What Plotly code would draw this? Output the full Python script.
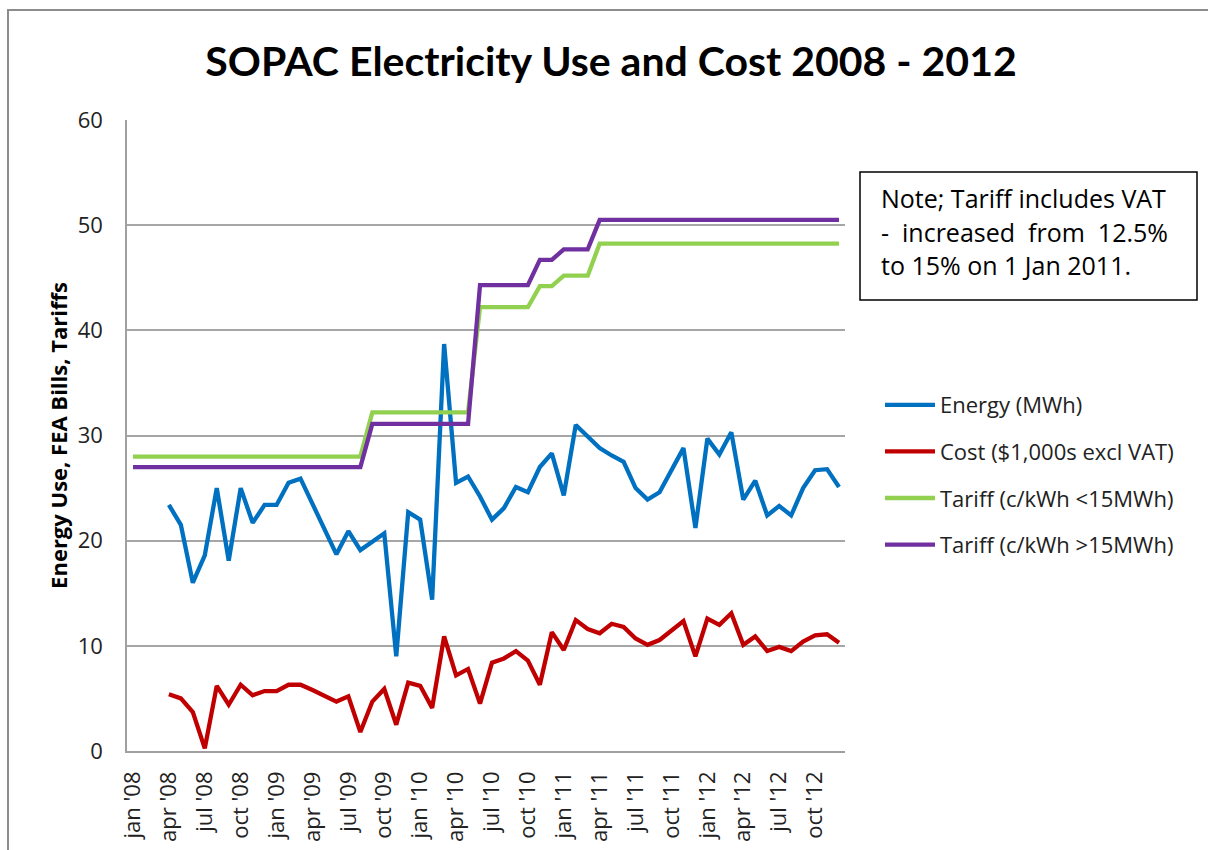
import plotly.graph_objects as go

# ---------------- data ----------------
month_names = ["jan", "feb", "mar", "apr", "may", "jun", "jul", "aug", "sep", "oct", "nov", "dec"]
years = ["08", "09", "10", "11", "12"]
months = [f"{m} '{y}" for y in years for m in month_names]

energy_mwh = [None, None, None,
              23.4, 21.5, 16.0, 18.6, 25.0, 18.1, 25.0, 21.7, 23.4,
              23.4, 25.5, 25.9, 23.5, 21.1, 18.7, 20.9, 19.1, 19.9, 20.7, 9.0, 22.7,
              22.0, 14.4, 38.7, 25.5, 26.1, 24.2, 22.0, 23.1, 25.1, 24.6, 27.0, 28.3,
              24.3, 31.0, 29.9, 28.8, 28.1, 27.5, 25.0, 23.9, 24.6, 26.8, 28.8, 21.2,
              29.7, 28.2, 30.3, 23.9, 25.7, 22.4, 23.3, 22.4, 25.0, 26.7, 26.8, 25.1]

cost_k = [None, None, None,
          5.4, 5.0, 3.7, 0.25, 6.2, 4.4, 6.3, 5.3, 5.7,
          5.7, 6.3, 6.3, 5.8, 5.2, 4.7, 5.2, 1.8, 4.7, 5.9, 2.5, 6.5,
          6.2, 4.1, 10.9, 7.2, 7.8, 4.5, 8.4, 8.8, 9.5, 8.6, 6.3, 11.3,
          9.6, 12.45, 11.6, 11.2, 12.1, 11.8, 10.7, 10.1, 10.55, 11.5, 12.35, 9.0,
          12.6, 12.0, 13.1, 10.1, 10.9, 9.5, 9.9, 9.5, 10.4, 11.0, 11.1, 10.3]

tariff_low = [28.0, 28.0, 28.0, 28.0, 28.0, 28.0, 28.0, 28.0, 28.0, 28.0, 28.0, 28.0,
              28.0, 28.0, 28.0, 28.0, 28.0, 28.0, 28.0, 28.0, 32.2, 32.2, 32.2, 32.2,
              32.2, 32.2, 32.2, 32.2, 32.2, 42.2, 42.2, 42.2, 42.2, 42.2, 44.2, 44.2,
              45.2, 45.2, 45.2, 48.25, 48.25, 48.25, 48.25, 48.25, 48.25, 48.25, 48.25, 48.25,
              48.25, 48.25, 48.25, 48.25, 48.25, 48.25, 48.25, 48.25, 48.25, 48.25, 48.25, 48.25]

tariff_high = [27.0, 27.0, 27.0, 27.0, 27.0, 27.0, 27.0, 27.0, 27.0, 27.0, 27.0, 27.0,
               27.0, 27.0, 27.0, 27.0, 27.0, 27.0, 27.0, 27.0, 31.1, 31.1, 31.1, 31.1,
               31.1, 31.1, 31.1, 31.1, 31.1, 44.3, 44.3, 44.3, 44.3, 44.3, 46.7, 46.7,
               47.7, 47.7, 47.7, 50.5, 50.5, 50.5, 50.5, 50.5, 50.5, 50.5, 50.5, 50.5,
               50.5, 50.5, 50.5, 50.5, 50.5, 50.5, 50.5, 50.5, 50.5, 50.5, 50.5, 50.5]

tick_labels = months[::3]
y_ticks = [0, 10, 20, 30, 40, 50, 60]

series = [
    ("Energy (MWh)", energy_mwh, "#0070C0"),
    ("Cost ($1,000s excl VAT)", cost_k, "#C00000"),
    ("Tariff (c/kWh <15MWh)", tariff_low, "#92D050"),
    ("Tariff (c/kWh >15MWh)", tariff_high, "#7030A0"),
]

# ---------------- figure ----------------
W, H = 1208, 850
L, R, T, B = 127, 1208 - 845, 120, 850 - 751
pw, ph = W - L - R, H - T - B


def px_x(px):
    return (px - L) / pw


def px_y(py):
    return (H - B - py) / ph


TFONT = "Lato"
FONT = "Open Sans"
fig = go.Figure()
for i, (name, vals, col) in enumerate(series):
    fig.add_trace(go.Scatter(x=months, y=vals, mode="lines", name=name,
                             legendgroup=f"g{i}",
                             line=dict(color=col, width=4.3), connectgaps=False))

fig.update_layout(
    width=W, height=H,
    margin=dict(l=L, r=R, t=T, b=B, autoexpand=False),
    paper_bgcolor="white", plot_bgcolor="white",
    font=dict(family=FONT, color="#222222", size=19),
    title=dict(text="<b>SOPAC Electricity Use and Cost 2008 - 2012</b>",
               x=611 / W, xanchor="center", y=1 - 62 / H, yanchor="middle",
               xref="container", yref="container",
               font=dict(family=TFONT, size=41, color="#000000")),
    showlegend=True,
    legend=dict(x=px_x(880), y=px_y(384), xanchor="left", yanchor="top",
                font=dict(family=FONT, size=22, color="#222222"),
                tracegroupgap=15, bgcolor="rgba(0,0,0,0)", itemwidth=50),
    xaxis=dict(type="category", categoryorder="array", categoryarray=months,
               tickmode="array", tickvals=tick_labels, ticktext=tick_labels,
               tickangle=-90, tickfont=dict(family=FONT, size=22, color="#222222"),
               showgrid=False, showline=True, linecolor="#a0a0a0", linewidth=1.5,
               ticks="", ticklabelstandoff=10, range=[-0.5, 59.5], zeroline=False),
    yaxis=dict(range=[0, 60], tickvals=y_ticks, showgrid=True, gridcolor="#a6a6a6",
               gridwidth=1.5, showline=True, linecolor="#a0a0a0", linewidth=1.5,
               ticks="", ticklabelstandoff=18, zeroline=False,
               tickfont=dict(family=FONT, size=22, color="#222222"),
               title=dict(text="<b>Energy Use, FEA Bills, Tariffs</b>", standoff=4,
                          font=dict(family=FONT, size=22, color="#000000"))),
)

# outer frame
fig.add_shape(type="rect", xref="paper", yref="paper",
              x0=px_x(8), x1=px_x(1215), y0=px_y(10), y1=px_y(860),
              line=dict(color="#8c8c8c", width=2), fillcolor="rgba(0,0,0,0)", layer="below")

# note box
fig.add_shape(type="rect", xref="paper", yref="paper",
              x0=px_x(860), x1=px_x(1197), y0=px_y(172), y1=px_y(300),
              line=dict(color="#000000", width=1.5), fillcolor="white")
note_lines = ["Note; Tariff includes VAT",
              "-\u00a0 increased\u00a0 from\u00a0 12.5%",
              "to 15% on 1 Jan 2011."]
for k, (txt, yy) in enumerate(zip(note_lines, [198, 232, 265])):
    fig.add_annotation(text=txt, xref="paper", yref="paper", x=px_x(879), y=px_y(yy),
                       xanchor="left", yanchor="middle", showarrow=False,
                       font=dict(family=FONT, size=25, color="#000000"))

fig.write_html("out.html")
